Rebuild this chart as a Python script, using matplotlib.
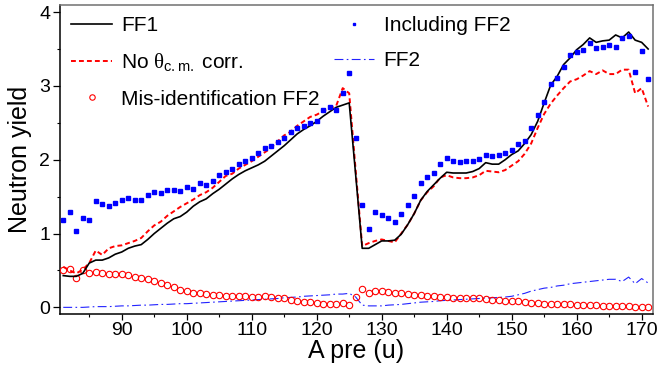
import matplotlib
matplotlib.use("Agg")
import matplotlib.pyplot as plt
import numpy as np

plt.rcParams['font.family'] = ['Liberation Sans', 'DejaVu Sans']
plt.rcParams['mathtext.fontset'] = 'custom'
plt.rcParams['mathtext.rm'] = 'Liberation Sans'
plt.rcParams['mathtext.it'] = 'Liberation Serif'

A_pre = list(range(81, 172))

ff1 = [0.43, 0.42, 0.42, 0.46, 0.60, 0.64, 0.64, 0.67, 0.72, 0.75,
       0.80, 0.83, 0.85, 0.92, 1.00, 1.07, 1.14, 1.20, 1.23, 1.29,
       1.37, 1.43, 1.47, 1.54, 1.60, 1.67, 1.74, 1.80, 1.85, 1.89,
       1.93, 1.98, 2.05, 2.12, 2.19, 2.27, 2.35, 2.41, 2.46, 2.52,
       2.59, 2.65, 2.71, 2.74, 2.77, 1.79, 0.80, 0.80, 0.85, 0.90,
       0.90, 0.91, 0.99, 1.12, 1.27, 1.45, 1.57, 1.66, 1.75, 1.83,
       1.82, 1.82, 1.82, 1.84, 1.88, 1.96, 1.94, 1.94, 2.00, 2.07,
       2.12, 2.22, 2.34, 2.52, 2.77, 3.01, 3.13, 3.29, 3.38, 3.49,
       3.56, 3.65, 3.59, 3.61, 3.62, 3.69, 3.65, 3.73, 3.62, 3.59, 3.50]

no_theta = [0.55, 0.50, 0.46, 0.51, 0.60, 0.77, 0.71, 0.80, 0.83, 0.84,
            0.87, 0.90, 0.94, 1.03, 1.11, 1.16, 1.24, 1.30, 1.36, 1.41,
            1.46, 1.52, 1.56, 1.62, 1.70, 1.78, 1.81, 1.88, 1.93, 1.98,
            2.04, 2.10, 2.16, 2.25, 2.33, 2.38, 2.46, 2.52, 2.58, 2.61,
            2.66, 2.70, 2.73, 2.97, 2.90, 1.85, 0.83, 0.87, 0.90, 0.92,
            0.90, 0.88, 1.00, 1.12, 1.27, 1.45, 1.56, 1.64, 1.76, 1.79,
            1.76, 1.75, 1.75, 1.76, 1.79, 1.85, 1.84, 1.83, 1.86, 1.92,
            1.98, 2.08, 2.22, 2.43, 2.62, 2.76, 2.87, 2.97, 3.06, 3.09,
            3.14, 3.20, 3.16, 3.21, 3.16, 3.16, 3.22, 3.22, 2.90, 2.97, 2.72]

misid = [0.51, 0.52, 0.40, 0.51, 0.46, 0.48, 0.47, 0.45, 0.45, 0.45,
         0.44, 0.41, 0.40, 0.38, 0.36, 0.33, 0.30, 0.27, 0.24, 0.22,
         0.20, 0.19, 0.18, 0.17, 0.17, 0.16, 0.15, 0.15, 0.15, 0.14,
         0.14, 0.15, 0.14, 0.13, 0.12, 0.10, 0.08, 0.07, 0.07, 0.06,
         0.05, 0.05, 0.05, 0.06, 0.03, 0.14, 0.25, 0.20, 0.22, 0.22,
         0.21, 0.20, 0.19, 0.18, 0.17, 0.17, 0.16, 0.15, 0.14, 0.14,
         0.13, 0.13, 0.13, 0.12, 0.12, 0.11, 0.10, 0.10, 0.09, 0.08,
         0.08, 0.07, 0.06, 0.06, 0.05, 0.05, 0.05, 0.04, 0.04, 0.03,
         0.03, 0.03, 0.03, 0.02, 0.02, 0.02, 0.02, 0.02, 0.01, 0.01, 0.01]

incl_ff2 = [1.19, 1.29, 1.03, 1.21, 1.18, 1.44, 1.40, 1.37, 1.42, 1.45,
            1.48, 1.46, 1.46, 1.52, 1.56, 1.55, 1.59, 1.59, 1.57, 1.63,
            1.61, 1.68, 1.66, 1.71, 1.79, 1.84, 1.88, 1.94, 1.98, 2.02,
            2.09, 2.16, 2.18, 2.24, 2.29, 2.37, 2.43, 2.46, 2.50, 2.53,
            2.67, 2.72, 2.67, 2.91, 3.17, 2.29, 1.38, 1.06, 1.29, 1.25,
            1.21, 1.15, 1.27, 1.38, 1.51, 1.68, 1.76, 1.82, 1.94, 2.02,
            1.98, 1.97, 1.98, 1.98, 2.01, 2.07, 2.05, 2.07, 2.09, 2.13,
            2.21, 2.25, 2.43, 2.60, 2.78, 3.02, 3.11, 3.26, 3.42, 3.46,
            3.48, 3.58, 3.51, 3.53, 3.55, 3.53, 3.65, 3.67, 3.19, 3.47, 3.10]

ff2 = [0.00, 0.00, 0.00, 0.00, 0.005, 0.01, 0.01, 0.01, 0.015, 0.02,
       0.02, 0.025, 0.03, 0.03, 0.035, 0.04, 0.04, 0.045, 0.05, 0.05,
       0.055, 0.06, 0.065, 0.07, 0.075, 0.08, 0.085, 0.09, 0.095, 0.10,
       0.105, 0.11, 0.115, 0.12, 0.13, 0.135, 0.14, 0.15, 0.155, 0.16,
       0.165, 0.17, 0.18, 0.18, 0.19, 0.14, 0.03, 0.02, 0.02, 0.02,
       0.03, 0.035, 0.04, 0.05, 0.06, 0.07, 0.075, 0.08, 0.09, 0.095,
       0.10, 0.105, 0.11, 0.115, 0.12, 0.125, 0.13, 0.135, 0.14, 0.15,
       0.17, 0.19, 0.22, 0.24, 0.26, 0.27, 0.29, 0.30, 0.32, 0.33,
       0.34, 0.35, 0.36, 0.37, 0.38, 0.38, 0.35, 0.41, 0.32, 0.39, 0.33]

W, H = 659, 371
fig = plt.figure(figsize=(W / 100, H / 100), dpi=100)
ax = fig.add_axes([60 / W, 1 - 314 / H, 592.7 / W, (314 - 4.7) / H])

l1, = ax.plot(A_pre, ff1, color='black', lw=1.2, label='FF1', zorder=4)
l2, = ax.plot(A_pre, no_theta, color='#ff0000', lw=1.4, dashes=(2.5, 1.6),
              label=r'No $\theta_{\rm c.m.}$ corr.', zorder=3)
l3, = ax.plot(A_pre, misid, ls='none', marker='o', ms=4.6, mfc='none',
              mec='#ff0000', mew=0.8, label='Mis-identification FF2', zorder=3)
l4, = ax.plot(A_pre, incl_ff2, ls='none', marker='s', ms=2.5, color='#0000ff',
              mec='#0000ff', label='Including FF2', zorder=5)
l5, = ax.plot(A_pre, ff2, color='#2222ff', lw=0.8, dashes=(8, 3, 1.5, 3),
              label='FF2', zorder=2)

ax.set_xlim(80.5, 171.7)
ax.set_ylim(-0.09, 4.10)
ax.set_xticks([90, 100, 110, 120, 130, 140, 150, 160, 170])
ax.set_xticks(np.arange(85, 171, 5), minor=True)
ax.set_yticks([0, 1, 2, 3, 4])
ax.set_yticks([0.5, 1.5, 2.5, 3.5], minor=True)
ax.tick_params(axis='both', which='major', labelsize=14, direction='out',
               length=4, width=0.9, pad=2)
ax.tick_params(axis='both', which='minor', direction='out', length=2.5, width=0.8)
ax.tick_params(axis='y', which='major', length=5)

for s in ['left', 'bottom']:
    ax.spines[s].set_color('black')
    ax.spines[s].set_linewidth(1.1)
for s in ['top', 'right']:
    ax.spines[s].set_color('#707070')
    ax.spines[s].set_linewidth(1.1)

ax.set_xlabel('A pre (u)', fontsize=18, labelpad=0)
ax.set_ylabel('Neutron yield', fontsize=18, labelpad=5)

leg = ax.legend(handles=[l1, l2, l3, l4, l5], ncol=2, loc='upper left',
                bbox_to_anchor=(0.0, 1.0), frameon=False, fontsize=15,
                handlelength=1.95, handletextpad=0.45, columnspacing=0.65,
                labelspacing=0.78, borderpad=0.3, borderaxespad=0.25,
                markerscale=0.85, numpoints=1)

fig.savefig('out.png', dpi=100)
